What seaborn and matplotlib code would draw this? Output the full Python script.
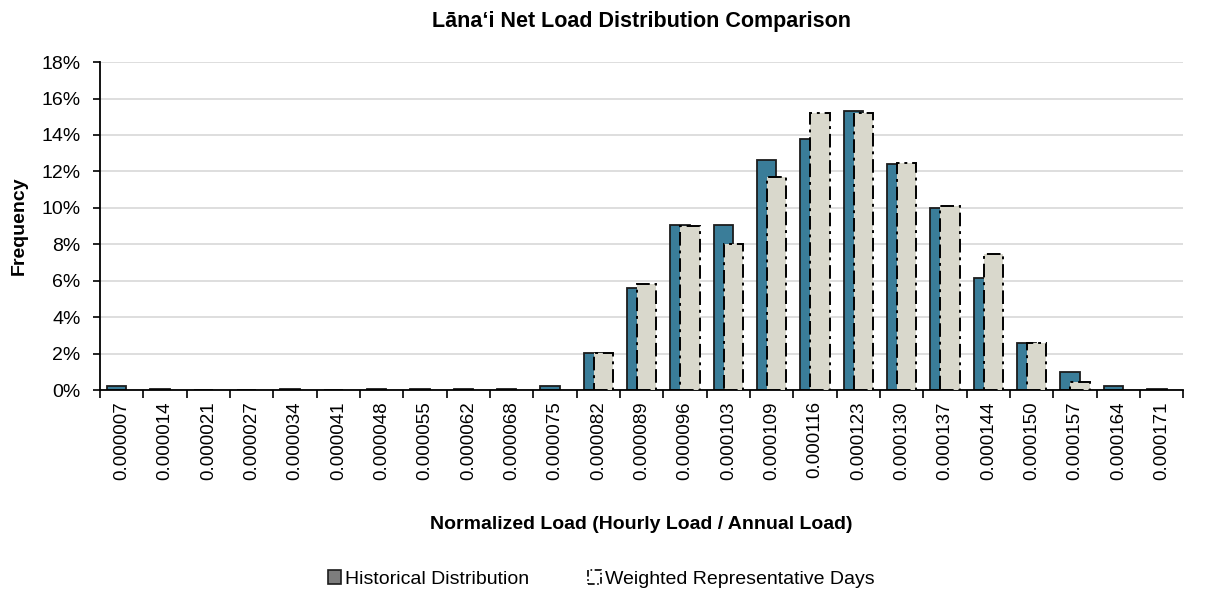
import pandas as pd
import matplotlib
matplotlib.use("Agg")
import matplotlib.pyplot as plt
from matplotlib.patches import Patch
from matplotlib.ticker import PercentFormatter, FixedLocator
import seaborn as sns

loads = ['0.000007', '0.000014', '0.000021', '0.000027', '0.000034', '0.000041',
         '0.000048', '0.000055', '0.000062', '0.000068', '0.000075', '0.000082',
         '0.000089', '0.000096', '0.000103', '0.000109', '0.000116', '0.000123',
         '0.000130', '0.000137', '0.000144', '0.000150', '0.000157', '0.000164',
         '0.000171']
historical = [0.2, 0.05, 0.0, 0.0, 0.05, 0.0, 0.05, 0.05, 0.05, 0.05, 0.2, 2.05,
              5.6, 9.05, 9.05, 12.6, 13.8, 15.3, 12.4, 10.0, 6.15, 2.6, 1.0, 0.2, 0.05]
weighted = [0.0, 0.0, 0.0, 0.0, 0.0, 0.0, 0.0, 0.0, 0.0, 0.0, 0.0, 2.05,
            5.8, 9.0, 8.0, 11.7, 15.2, 15.2, 12.45, 10.1, 7.45, 2.6, 0.45, 0.0, 0.0]
series_names = ['Historical Distribution', 'Weighted Representative Days']

hist_color = '#3a7d99'
wtd_color = '#d9d8cc'

df = pd.DataFrame({
    'load': loads * 2,
    'freq': historical + weighted,
    'series': [series_names[0]] * len(loads) + [series_names[1]] * len(loads),
})

sns.set_style('white')
plt.rcParams['font.family'] = ['Liberation Sans', 'DejaVu Sans']
plt.rcParams['text.color'] = 'black'
plt.rcParams['axes.labelcolor'] = 'black'
plt.rcParams['xtick.color'] = 'black'
plt.rcParams['ytick.color'] = 'black'

fig = plt.figure(figsize=(12.15, 5.97), dpi=100)
ax = fig.add_axes([0.0823, 0.3467, 0.8917, 0.5493])

sns.barplot(data=df, x='load', y='freq', hue='series', hue_order=series_names,
            palette=[hist_color, wtd_color], saturation=1, width=0.8,
            dodge=True, legend=False, ax=ax)

# overlap the two bars within each category, Excel style
for k, cont in enumerate(ax.containers):
    for i, bar in enumerate(cont):
        bar.set_width(0.45)
        if k == 0:
            bar.set_x(i - 0.34)
            bar.set_edgecolor('#1c1c1c')
            bar.set_linewidth(1.3)
            bar.set_zorder(2)
        else:
            bar.set_x(i - 0.11)
            bar.set_edgecolor('black')
            bar.set_linewidth(1.4)
            bar.set_linestyle((0, (7, 2.5, 1.5, 2.5)))
            bar.set_zorder(3)
            if weighted[i] == 0:
                bar.set_visible(False)

ax.set_xlim(-0.5, len(loads) - 0.5)
ax.set_ylim(0, 18)
ax.set_yticks(range(0, 19, 2))
ax.yaxis.set_major_formatter(PercentFormatter(xmax=100, decimals=0))
ax.yaxis.grid(True, color='#d4d4d4', linewidth=1.1)
ax.set_axisbelow(True)

for side in ['top', 'right']:
    ax.spines[side].set_visible(False)
for side in ['left', 'bottom']:
    ax.spines[side].set_color('black')
    ax.spines[side].set_linewidth(1.3)

ax.tick_params(axis='y', which='major', left=True, length=5, width=1.2,
               labelsize=14, pad=9, colors='black')
ax.tick_params(axis='x', which='major', length=0, labelsize=13.5, pad=8,
               labelrotation=90, colors='black')
ax.xaxis.set_minor_locator(FixedLocator([i + 0.5 for i in range(-1, len(loads))]))
ax.tick_params(axis='x', which='minor', bottom=True, length=6, width=1.2,
               color='black')

ax.set_xlabel('Normalized Load (Hourly Load / Annual Load)', fontsize=14,
              fontweight='bold', labelpad=26)
ax.set_ylabel('Frequency', fontsize=14, fontweight='bold', labelpad=10)
ax.set_title('Lāna‘i Net Load Distribution Comparison', fontsize=15.5,
             fontweight='bold', pad=25)

handles = [Patch(facecolor='#7d7d7d', edgecolor='#1c1c1c', linewidth=1.2),
           Patch(facecolor='white', edgecolor='black', linewidth=1.2,
                 linestyle=(0, (4, 1.5, 1, 1.5)))]
fig.legend(handles, series_names, loc='center', bbox_to_anchor=(0.495, 0.03),
           ncol=2, frameon=False, fontsize=14, handlelength=0.7,
           handleheight=0.7, handletextpad=0.2, columnspacing=3.0)

fig.savefig('out.png', dpi=100, facecolor='white')
